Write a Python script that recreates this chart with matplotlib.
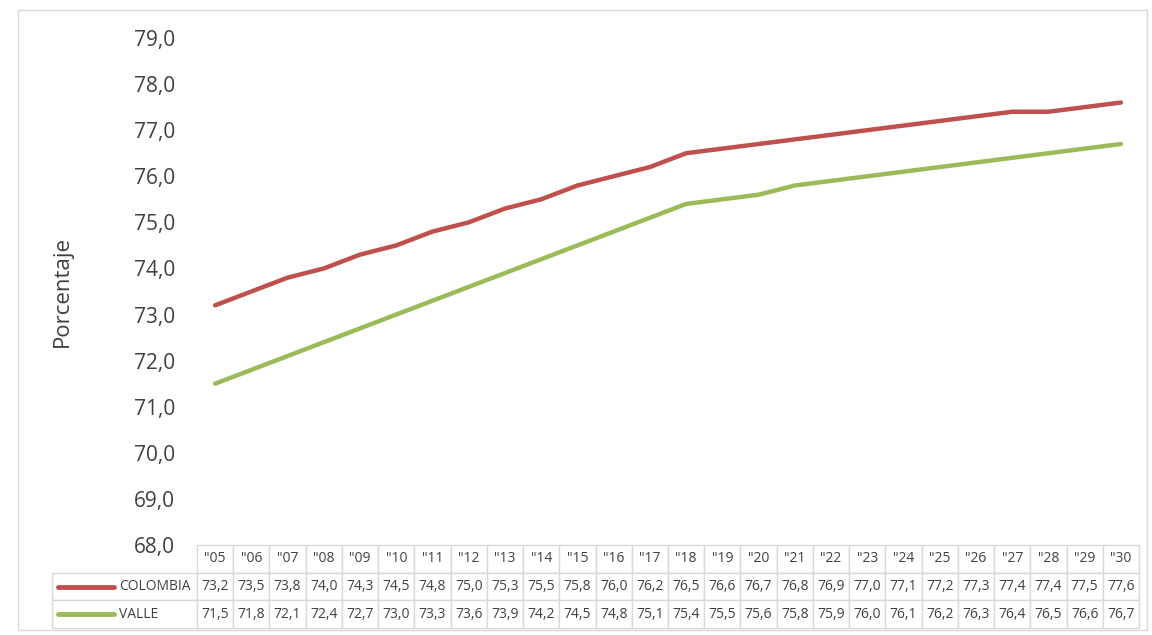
import matplotlib.pyplot as plt
import matplotlib.patches as patches
from matplotlib.ticker import FuncFormatter

years = ['"05', '"06', '"07', '"08', '"09', '"10', '"11', '"12', '"13', '"14', '"15', '"16', '"17',
         '"18', '"19', '"20', '"21', '"22', '"23', '"24', '"25', '"26', '"27', '"28', '"29', '"30']
colombia = [73.2, 73.5, 73.8, 74.0, 74.3, 74.5, 74.8, 75.0, 75.3, 75.5, 75.8, 76.0, 76.2,
            76.5, 76.6, 76.7, 76.8, 76.9, 77.0, 77.1, 77.2, 77.3, 77.4, 77.4, 77.5, 77.6]
valle = [71.5, 71.8, 72.1, 72.4, 72.7, 73.0, 73.3, 73.6, 73.9, 74.2, 74.5, 74.8, 75.1,
         75.4, 75.5, 75.6, 75.8, 75.9, 76.0, 76.1, 76.2, 76.3, 76.4, 76.5, 76.6, 76.7]
series = ['COLOMBIA', 'VALLE']
colors = ['#C0504D', '#9BBB59']

plt.rcParams['font.family'] = ['Open Sans', 'DejaVu Sans']
txt = '#404040'

W, H = 1152, 635
fig = plt.figure(figsize=(W / 100, H / 100), dpi=100)
# outer chart border
fig.add_artist(patches.Rectangle((18 / W, 5 / H), 1129 / W, 620 / H, transform=fig.transFigure,
                                 fill=False, edgecolor='#d9d9d9', lw=1))

ax = fig.add_axes([197 / W, (H - 545) / H, 942 / W, 507 / H])
x = list(range(len(years)))
ax.plot(x, colombia, color=colors[0], lw=3.2, solid_capstyle='round')
ax.plot(x, valle, color=colors[1], lw=3.2, solid_capstyle='round')
ax.set_xlim(-0.5, len(years) - 0.5)
ax.set_ylim(68, 79)
ax.set_yticks(range(68, 80))
ax.yaxis.set_major_formatter(FuncFormatter(lambda v, p: f'{v:.1f}'.replace('.', ',')))
ax.tick_params(axis='y', length=0, pad=16, labelsize=15, labelcolor=txt)
ax.set_xticks([])
for s in ax.spines.values():
    s.set_visible(False)
ax.set_ylabel('Porcentaje', fontsize=16, color=txt, labelpad=44)

# data table (bbox covers the data cells; row labels sit to the left of it)
cell_text = [[f'{v:.1f}'.replace('.', ',') for v in colombia],
             [f'{v:.1f}'.replace('.', ',') for v in valle]]
label_w = 145 / 942
tb = ax.table(cellText=cell_text, colLabels=years, rowLabels=series, cellLoc='center',
              rowLoc='left', bbox=[0, -83 / 507, 1, 83 / 507])
tb._autoColumns = []
tb.auto_set_font_size(False)
for (r, c), cell in tb.get_celld().items():
    cell.set_edgecolor('#d9d9d9')
    cell.set_linewidth(1)
    cell.get_text().set_fontsize(10)
    cell.get_text().set_color(txt)
    cell.set_width(label_w if c == -1 else 1 / len(years))
    if c == -1:
        cell.PAD = 0.46

# legend keys inside row label cells
row_h = 83 / 507 / 3
for i, col in enumerate(colors):
    yc = -row_h * (1.5 + i)
    ax.plot([(58 - 197) / 942, (114 - 197) / 942], [yc, yc], color=col, lw=3.5,
            solid_capstyle='round', transform=ax.transAxes, clip_on=False)

fig.savefig('out.png', dpi=100)
